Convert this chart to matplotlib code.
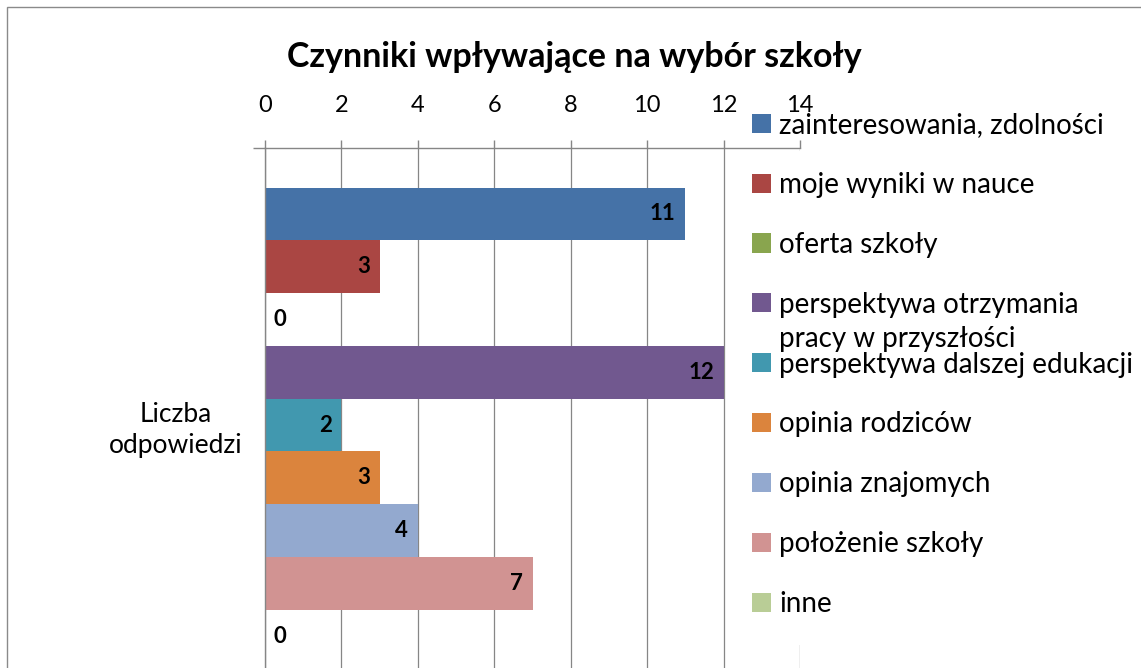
import matplotlib
matplotlib.use("Agg")
import matplotlib.pyplot as plt
from matplotlib.patches import Rectangle

# data
category = "Liczba\nodpowiedzi"
factors = [
    "zainteresowania, zdolności",
    "moje wyniki w nauce",
    "oferta szkoły",
    "perspektywa otrzymania\npracy w przyszłości",
    "perspektywa dalszej edukacji",
    "opinia rodziców",
    "opinia znajomych",
    "położenie szkoły",
    "inne",
]
answers = [11, 3, 0, 12, 2, 3, 4, 7, 0]
colors = ["#4572A7", "#AA4643", "#89A54E", "#71588F", "#4198AF",
          "#DB843D", "#93A9CF", "#D19392", "#B9CD96"]
x_ticks = [0, 2, 4, 6, 8, 10, 12, 14]

W, H = 1141, 668
plt.rcParams["font.family"] = ["Lato", "DejaVu Sans"]
grey = "#868686"

fig = plt.figure(figsize=(W / 100, H / 100), dpi=100)
# plot area: x 0 at px 265, 14 at px 800, top at px 148
ax = fig.add_axes([265 / W, (H - 702) / H, (800 - 265) / W, (702 - 148) / H])

bars = []
for i, (lab, val, col) in enumerate(zip(factors, answers, colors)):
    b = ax.barh(i, val, height=1.0, color=col, label=lab, zorder=2)
    bars.append(b[0])
    if val > 0:
        ax.annotate(str(val), xy=(val, i), xytext=(-7, 0), textcoords="offset points",
                    ha="right", va="center", fontsize=16, fontweight="bold", zorder=3)
    else:
        ax.annotate(str(val), xy=(val, i), xytext=(6, 0), textcoords="offset points",
                    ha="left", va="center", fontsize=16, fontweight="bold", zorder=3)

ax.set_xlim(0, 14)
ax.set_ylim(len(answers) - 0.5 + 0.75, -0.5 - 0.75)
ax.set_xticks(x_ticks)
ax.xaxis.tick_top()
ax.tick_params(axis="x", direction="out", length=6, pad=17, color=grey,
               labelsize=17, width=1)
ax.grid(axis="x", color=grey, linewidth=0.9, zorder=1)
ax.set_axisbelow(True)

# category axis: tick marks at the group boundaries, label in the middle
ax.set_yticks([-1.25, len(answers) - 0.5 + 0.75])
ax.set_yticklabels(["", ""])
ax.tick_params(axis="y", which="major", direction="out", length=8.6, color=grey, width=1)
ax.set_yticks([(len(answers) - 1) / 2], minor=True)
ax.set_yticklabels([category], minor=True)
ax.tick_params(axis="y", which="minor", length=0, pad=16, labelsize=19)
for t in ax.get_yticklabels(minor=True):
    t.set_multialignment("center")
    t.set_linespacing(1.25)

for s in ["right", "bottom"]:
    ax.spines[s].set_visible(False)
for s in ["top", "left"]:
    ax.spines[s].set_color(grey)
    ax.spines[s].set_linewidth(1)

fig.text(574 / W, 1 - 57 / H, "Czynniki wpływające na wybór szkoły",
         ha="center", va="center", fontsize=24.5, fontweight="bold")

# white background behind legend (hides the gridline at 14)
fig.patches.append(Rectangle((746 / W, (H - 645) / H), 1, (645 - 151) / H,
                             transform=fig.transFigure, facecolor="white",
                             edgecolor="none", zorder=1))
# outer chart border
fig.patches.append(Rectangle((7 / W, -0.2), 2, (H - 7) / H + 0.2,
                             transform=fig.transFigure, fill=False,
                             edgecolor="#8a8a8a", linewidth=1, zorder=6))

leg_labels = [f.split("\n")[0] for f in factors]
leg = fig.legend(bars, leg_labels, loc="upper left",
                 bbox_to_anchor=(752 / W, 1 - 112 / H), frameon=False,
                 fontsize=20, handlelength=0.68, handleheight=0.68,
                 handletextpad=0.29, labelspacing=1.22, borderpad=0,
                 borderaxespad=0)

fig.canvas.draw()
bb = leg.get_texts()[3].get_window_extent()
second = factors[3].split("\n")[1]
fig.text(bb.x0 / W, ((bb.y0 + bb.y1) / 2 - 34) / H, second,
         ha="left", va="center", fontsize=20)

fig.savefig("out.png", dpi=100)
